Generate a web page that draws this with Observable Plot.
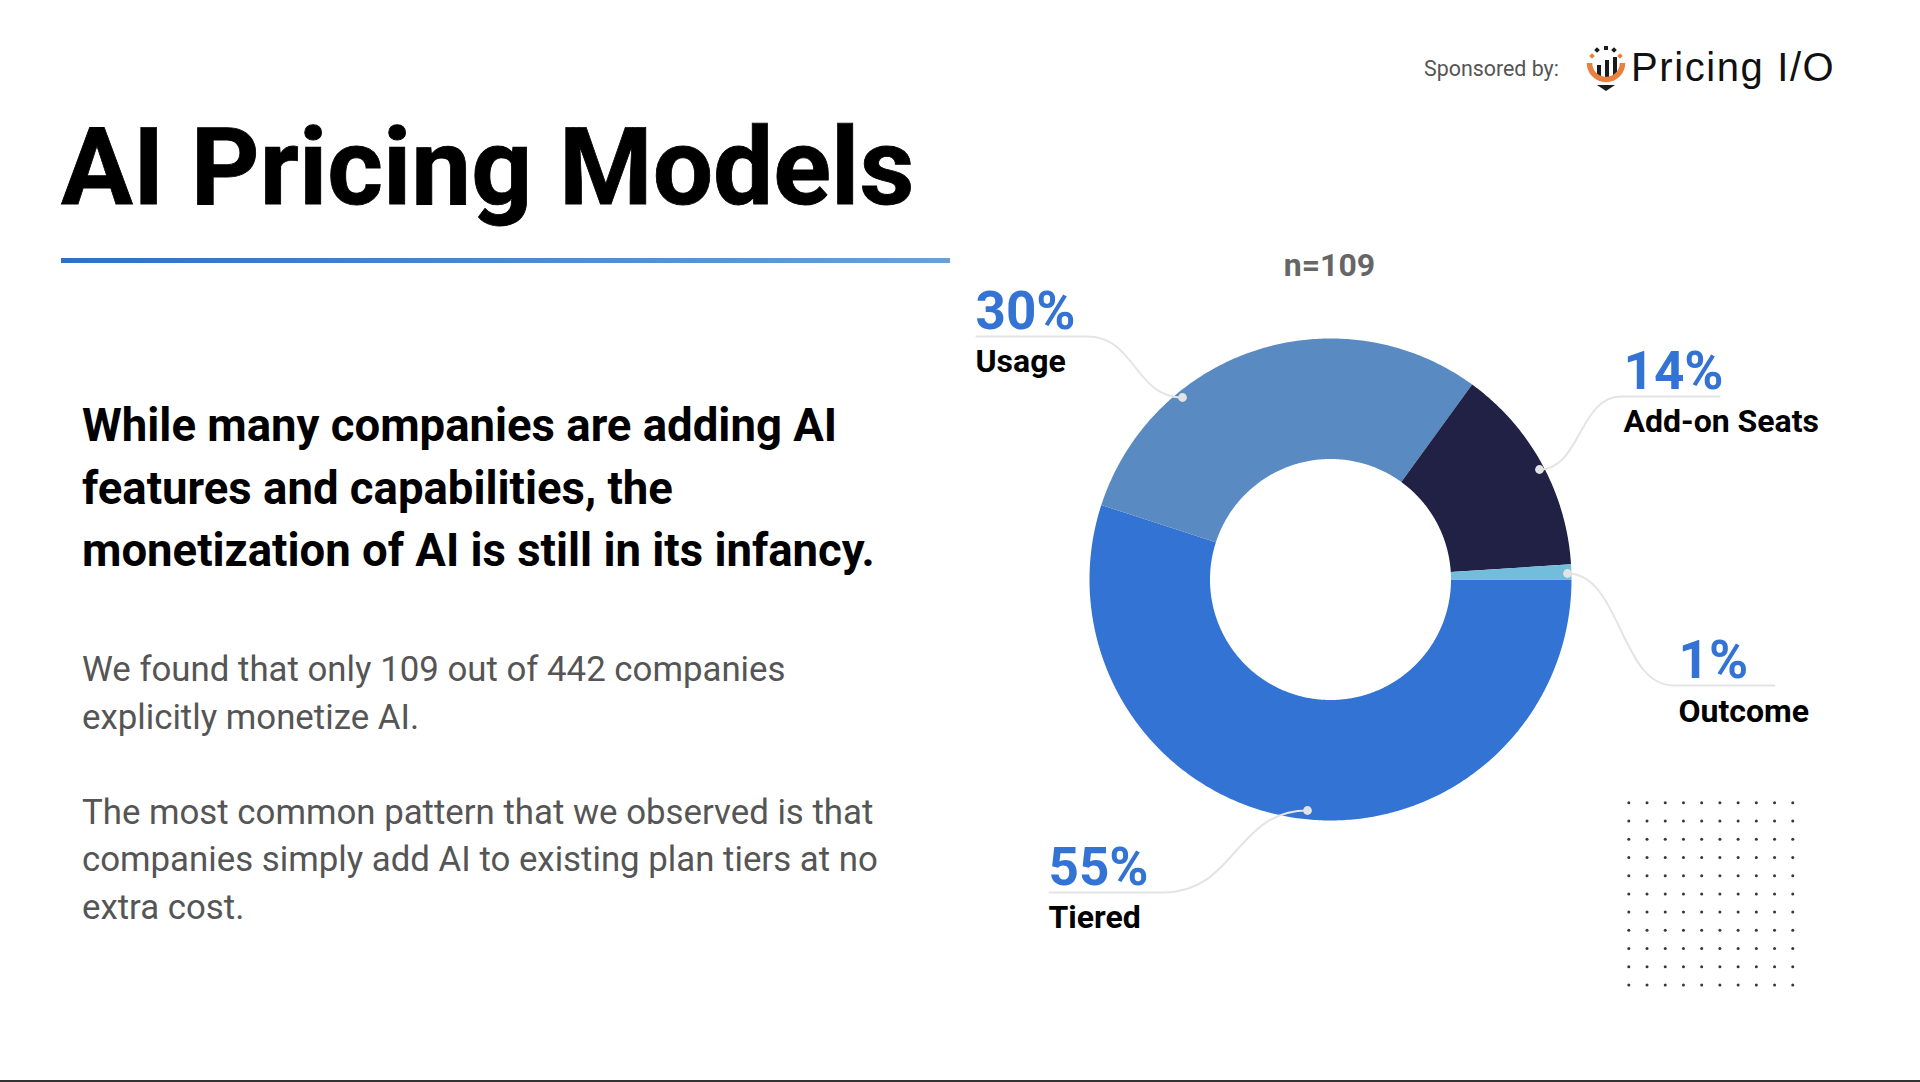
<!DOCTYPE html>
<html>
<head>
<meta charset="utf-8">
<title>AI Pricing Models</title>
<script src="https://cdn.jsdelivr.net/npm/d3@7"></script>
<script src="https://cdn.jsdelivr.net/npm/@observablehq/plot@0.6"></script>
<style>
html,body{margin:0;padding:0;background:#fff;}
#page{position:relative;width:1920px;height:1082px;overflow:hidden;font-family:Roboto,sans-serif;}
#page .t{position:absolute;white-space:nowrap;line-height:1;margin:0;}
#chart{position:absolute;left:960px;top:230px;}
#chart svg{display:block;overflow:visible;background:transparent;}
#rule{position:absolute;left:61px;top:258px;width:889px;height:5px;background:linear-gradient(90deg,#2f6fcb,#6a9fd8);}
#base{position:absolute;left:0;top:1080px;width:1920px;height:2px;background:#333;}
#logo{position:absolute;left:1585px;top:44px;}
</style>
</head>
<body>
<div id="page">
  <span class="t" id="spons" style="left:1424px;top:58px;font-size:21.4px;color:#555;">Sponsored by:</span>
  <svg id="logo" width="44" height="50" viewBox="0 0 44 50">
    <rect x="12" y="21" width="4" height="12" fill="#1a1a1a"/>
    <rect x="20" y="16" width="4" height="17" fill="#1a1a1a"/>
    <rect x="28" y="13" width="4" height="20" fill="#1a1a1a"/>
    <path d="M4.500 19a16.500 16.500 0 0 0 33 0" fill="none" stroke="#e8803f" stroke-width="5.500"/>
    <path d="M12 41h18l-9 6z" fill="#1a1a1a"/>
    <rect x="19" y="2" width="4" height="4" fill="#1a1a1a"/>
    <rect x="10" y="4" width="4" height="4" fill="#1a1a1a" transform="rotate(45 12 6)"/>
    <rect x="27" y="4" width="4" height="4" fill="#1a1a1a" transform="rotate(45 29 6)"/>
    <rect x="5" y="10" width="4" height="4" fill="#e8803f" transform="rotate(45 7 12)"/>
    <rect x="33" y="10" width="4" height="4" fill="#e8803f" transform="rotate(45 35 12)"/>
  </svg>
  <span class="t" style="left:1631px;top:47px;font-size:40px;color:#111;font-family:'Liberation Sans',sans-serif;letter-spacing:1.6px;">Pricing I/O</span>
  <h1 class="t" style="left:61px;top:114.300px;font-size:107px;font-weight:700;color:#000;-webkit-text-stroke:0.8px #000;">AI Pricing Models</h1>
  <div id="rule"></div>
  <div class="t" style="left:82px;top:395px;font-size:45.500px;font-weight:700;color:#000;line-height:62.500px;">While many companies are adding AI<br>features and capabilities, the<br>monetization of AI is still in its infancy.</div>
  <div class="t" style="left:82px;top:646px;font-size:34.800px;color:#555;line-height:47.800px;">We found that only 109 out of 442 companies<br>explicitly monetize AI.</div>
  <div class="t" style="left:82px;top:788.500px;font-size:34.800px;color:#555;line-height:47.800px;">The most common pattern that we observed is that<br>companies simply add AI to existing plan tiers at no<br>extra cost.</div>
  <div id="chart"></div>
  <div id="base"></div>
</div>
<script>
// Data
const categories = ["Tiered", "Usage", "Add-on Seats", "Outcome"];
const shares = [55, 30, 14, 1];
const sampleLabel = "n=109";

// Styles
const sliceColors = ["#3273d3", "#5a8ac2", "#212145", "#72bcdc"];

// Layout (page pixels)
const center = [1330, 579];
const outerR = 241, innerR = 120.5;
const callouts = [
  {name: "Usage", textX: 975, pctY: 328, nameY: 371, lineStart: 976, lineBend: 1087, lineY: 336, dotX: 1182, dotY: 397},
  {name: "Add-on Seats", textX: 1623, pctY: 388, nameY: 431.5, lineStart: 1719, lineBend: 1620, lineY: 396, dotX: 1539, dotY: 469},
  {name: "Outcome", textX: 1678, pctY: 677, nameY: 721.5, lineStart: 1774, lineBend: 1673, lineY: 685, dotX: 1567, dotY: 573},
  {name: "Tiered", textX: 1048, pctY: 884, nameY: 927.5, lineStart: 1049, lineBend: 1163, lineY: 892, dotX: 1307, dotY: 810}
];
const gridXs = d3.range(10).map(i => 1628.3 + i * 18.22);
const gridYs = d3.range(11).map(i => 802.3 + i * 18.22);

// Slices: clockwise from 3 o'clock
const total = d3.sum(shares);
let running = 0;
const features = categories.map((name, i) => {
  const a0 = running / total * 2 * Math.PI;
  running += shares[i];
  const a1 = running / total * 2 * Math.PI;
  const n = Math.max(2, Math.ceil((a1 - a0) / 0.01));
  const angles = d3.range(n + 1).map(k => a0 + (a1 - a0) * k / n);
  const pt = (r, a) => [center[0] + r * Math.cos(a), center[1] + r * Math.sin(a)];
  const ring = [...angles.map(a => pt(outerR, a)), ...angles.slice().reverse().map(a => pt(innerR, a))];
  ring.push(ring[0]);
  return {type: "Feature", properties: {name}, geometry: {type: "Polygon", coordinates: [ring]}};
});

const lineRows = callouts.flatMap(c => [
  {name: c.name, x: c.lineStart, y: c.lineY},
  {name: c.name, x: c.lineBend, y: c.lineY},
  {name: c.name, x: c.dotX, y: c.dotY}
]);
const pctOf = name => shares[categories.indexOf(name)] + "%";
const grid = d3.cross(gridXs, gridYs, (x, y) => ({x, y}));

const chart = Plot.plot({
  width: 960,
  height: 790,
  margin: 0,
  style: {background: "transparent", fontFamily: "Roboto, sans-serif"},
  x: {domain: [960, 1920], range: [0, 960], axis: null},
  y: {domain: [230, 1020], range: [0, 790], axis: null},
  color: {domain: categories, range: sliceColors},
  marks: [
    Plot.geo(features, {fill: d => d.properties.name, stroke: null}),
    Plot.dot(grid, {x: "x", y: "y", r: 1.5, fill: "#33383d"}),
    Plot.line(lineRows, {x: "x", y: "y", z: "name", curve: "bump-x", stroke: "#e4e4e4", strokeWidth: 2}),
    Plot.dot(callouts, {x: "dotX", y: "dotY", r: 4.4, fill: "#e3e3e3"}),
    Plot.text(callouts, {x: "textX", y: "pctY", text: d => pctOf(d.name), textAnchor: "start", lineAnchor: "bottom", fontSize: 53, fontWeight: 700, fill: "#3273d3"}),
    Plot.text(callouts, {x: "textX", y: "nameY", text: "name", textAnchor: "start", lineAnchor: "bottom", fontSize: 32, fontWeight: 700, fill: "#000"}),
    Plot.text([sampleLabel], {x: () => center[0] - 1, y: () => 275, text: d => d, lineAnchor: "bottom", fontSize: 32, fontWeight: 700, fill: "#666"})
  ]
});
document.getElementById("chart").appendChild(chart);
</script>
</body>
</html>
